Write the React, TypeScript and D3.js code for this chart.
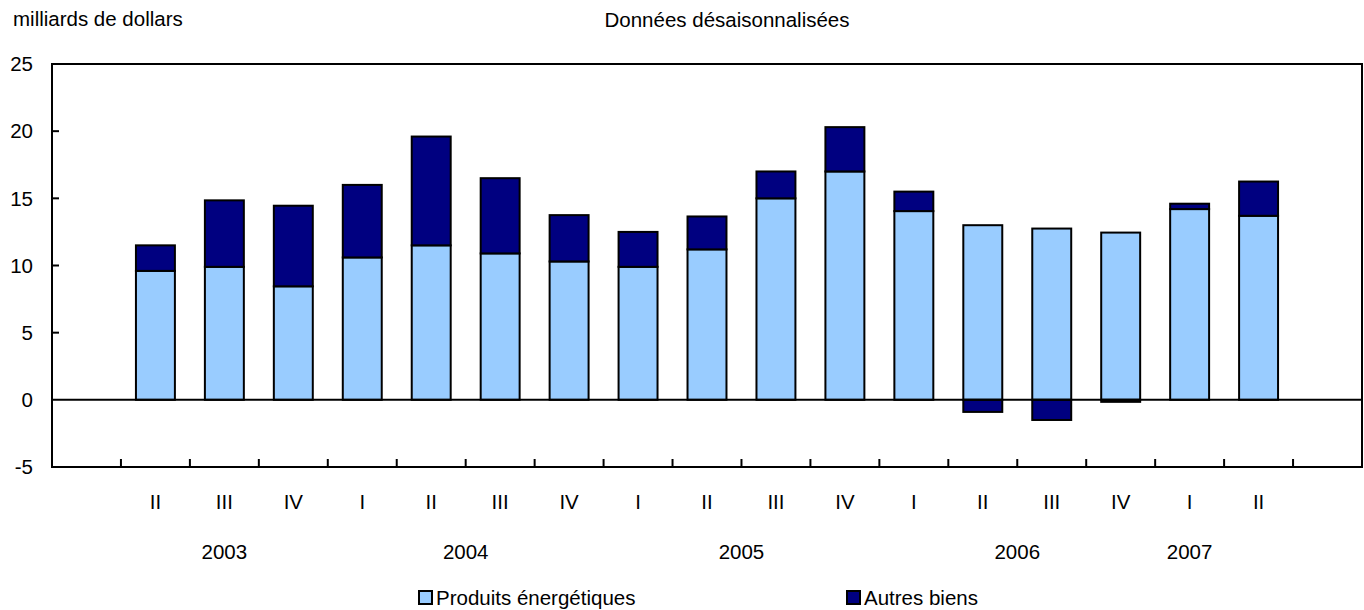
import { useEffect, useRef } from 'react'
import * as d3 from 'd3'

// quarters from 2003 I to 2007 III; first and last slots are empty
const periods = [
  '2003-I', '2003-II', '2003-III', '2003-IV',
  '2004-I', '2004-II', '2004-III', '2004-IV',
  '2005-I', '2005-II', '2005-III', '2005-IV',
  '2006-I', '2006-II', '2006-III', '2006-IV',
  '2007-I', '2007-II', '2007-III',
]
const energy = [null, 9.6, 9.9, 8.45, 10.6, 11.5, 10.9, 10.3, 9.9, 11.2, 15.0, 17.0, 14.05, 13.0, 12.75, 12.45, 14.2, 13.7, null]
const otherGoods = [null, 1.9, 4.95, 6.0, 5.4, 8.1, 5.6, 3.45, 2.6, 2.45, 2.0, 3.3, 1.45, -0.9, -1.5, -0.15, 0.4, 2.55, null]

const yTicks = [-5, 0, 5, 10, 15, 20, 25]
const years = ['2003', '2004', '2005', '2006', '2007']
// where each year label sits: the middle of a quarter or the start of it
const yearAnchors = ['2003-III', '2004-III', '2005-III', '2006-III', '2007-I']
const yearAlign = ['center', 'start', 'start', 'start', 'center']

const seriesNames = ['Produits énergétiques', 'Autres biens']
const seriesColors = ['#99ccff', '#000080']

const W = 1364
const H = 610
const FONT = 'Liberation Sans, Arial, Helvetica, sans-serif'
const FS = 20.5

export default function App() {
  const svgRef = useRef<SVGSVGElement>(null)

  useEffect(() => {
    if (!svgRef.current) return
    const svg = d3.select(svgRef.current)
    svg.selectAll('*').remove()

    const left = 52, right = 1362, top = 64, bottom = 467

    const x = d3.scaleBand<string>().domain(periods).range([left, right]).paddingInner(0).paddingOuter(0)
    const y = d3.scaleLinear().domain([-5, 25]).range([bottom, top])
    const barW = x.bandwidth() * 0.565

    const rows = periods.map((p, i) => ({ period: p, energy: energy[i] ?? 0, other: otherGoods[i] ?? 0, has: energy[i] != null }))
    const stacked = d3.stack<any>()
      .keys(['energy', 'other'])
      .offset(d3.stackOffsetDiverging)(rows)

    // top texts
    svg.append('text')
      .attr('x', 13).attr('y', 26)
      .attr('font-size', FS).attr('font-family', FONT)
      .text('milliards de dollars')
    svg.append('text')
      .attr('x', 727).attr('y', 27)
      .attr('text-anchor', 'middle')
      .attr('font-size', FS).attr('font-family', FONT)
      .text('Données désaisonnalisées')

    // bars
    stacked.forEach((s, si) => {
      svg.append('g')
        .selectAll('rect')
        .data(s.filter((d: any) => d.data.has))
        .join('rect')
        .attr('x', (d: any) => x(d.data.period)! + (x.bandwidth() - barW) / 2)
        .attr('width', barW)
        .attr('y', (d: any) => y(Math.max(d[0], d[1])))
        .attr('height', (d: any) => Math.abs(y(d[0]) - y(d[1])))
        .attr('fill', seriesColors[si])
        .attr('stroke', '#000')
        .attr('stroke-width', 2)
    })

    // zero line
    svg.append('line')
      .attr('x1', left).attr('x2', right)
      .attr('y1', y(0)).attr('y2', y(0))
      .attr('stroke', '#000').attr('stroke-width', 2)

    // frame
    svg.append('rect')
      .attr('x', left).attr('y', top)
      .attr('width', right - left).attr('height', bottom - top)
      .attr('fill', 'none').attr('stroke', '#000').attr('stroke-width', 2)

    // y ticks + labels
    const yg = svg.append('g')
    yg.selectAll('line')
      .data(yTicks.filter(t => t > -5 && t < 25 && t !== 0))
      .join('line')
      .attr('x1', left).attr('x2', left + 7)
      .attr('y1', d => y(d)).attr('y2', d => y(d))
      .attr('stroke', '#000').attr('stroke-width', 2)
    yg.selectAll('text')
      .data(yTicks)
      .join('text')
      .attr('x', 33).attr('y', d => y(d))
      .attr('dy', '0.35em')
      .attr('text-anchor', 'end')
      .attr('font-size', FS).attr('font-family', FONT)
      .text(d => String(d))

    // x ticks on band boundaries
    svg.append('g')
      .selectAll('line')
      .data(periods.slice(1))
      .join('line')
      .attr('x1', d => x(d)!).attr('x2', d => x(d)!)
      .attr('y1', bottom).attr('y2', bottom - 8)
      .attr('stroke', '#000').attr('stroke-width', 2)

    // quarter labels
    svg.append('g')
      .selectAll('text')
      .data(rows.filter(r => r.has))
      .join('text')
      .attr('x', d => x(d.period)! + x.bandwidth() / 2)
      .attr('y', 502)
      .attr('dy', '0.35em')
      .attr('text-anchor', 'middle')
      .attr('font-size', FS).attr('font-family', FONT)
      .text(d => d.period.split('-')[1])

    // year labels
    svg.append('g')
      .selectAll('text')
      .data(years)
      .join('text')
      .attr('x', (d, i) => x(yearAnchors[i])! + (yearAlign[i] === 'center' ? x.bandwidth() / 2 : 0))
      .attr('y', 552)
      .attr('dy', '0.35em')
      .attr('text-anchor', 'middle')
      .attr('font-size', FS).attr('font-family', FONT)
      .text(d => d)

    // legend
    const legendX = [419, 847]
    const lg = svg.append('g')
    seriesNames.forEach((name, i) => {
      lg.append('rect')
        .attr('x', legendX[i]).attr('y', 591)
        .attr('width', 13).attr('height', 13)
        .attr('fill', seriesColors[i])
        .attr('stroke', '#000').attr('stroke-width', 2)
      lg.append('text')
        .attr('x', legendX[i] + 17).attr('y', 598)
        .attr('dy', '0.35em')
        .attr('font-size', FS).attr('font-family', FONT)
        .text(name)
    })
  }, [])

  return (
    <svg
      ref={svgRef}
      width={W}
      height={H}
      style={{ position: 'absolute', left: 0, top: 0, background: '#fff' }}
    />
  )
}
